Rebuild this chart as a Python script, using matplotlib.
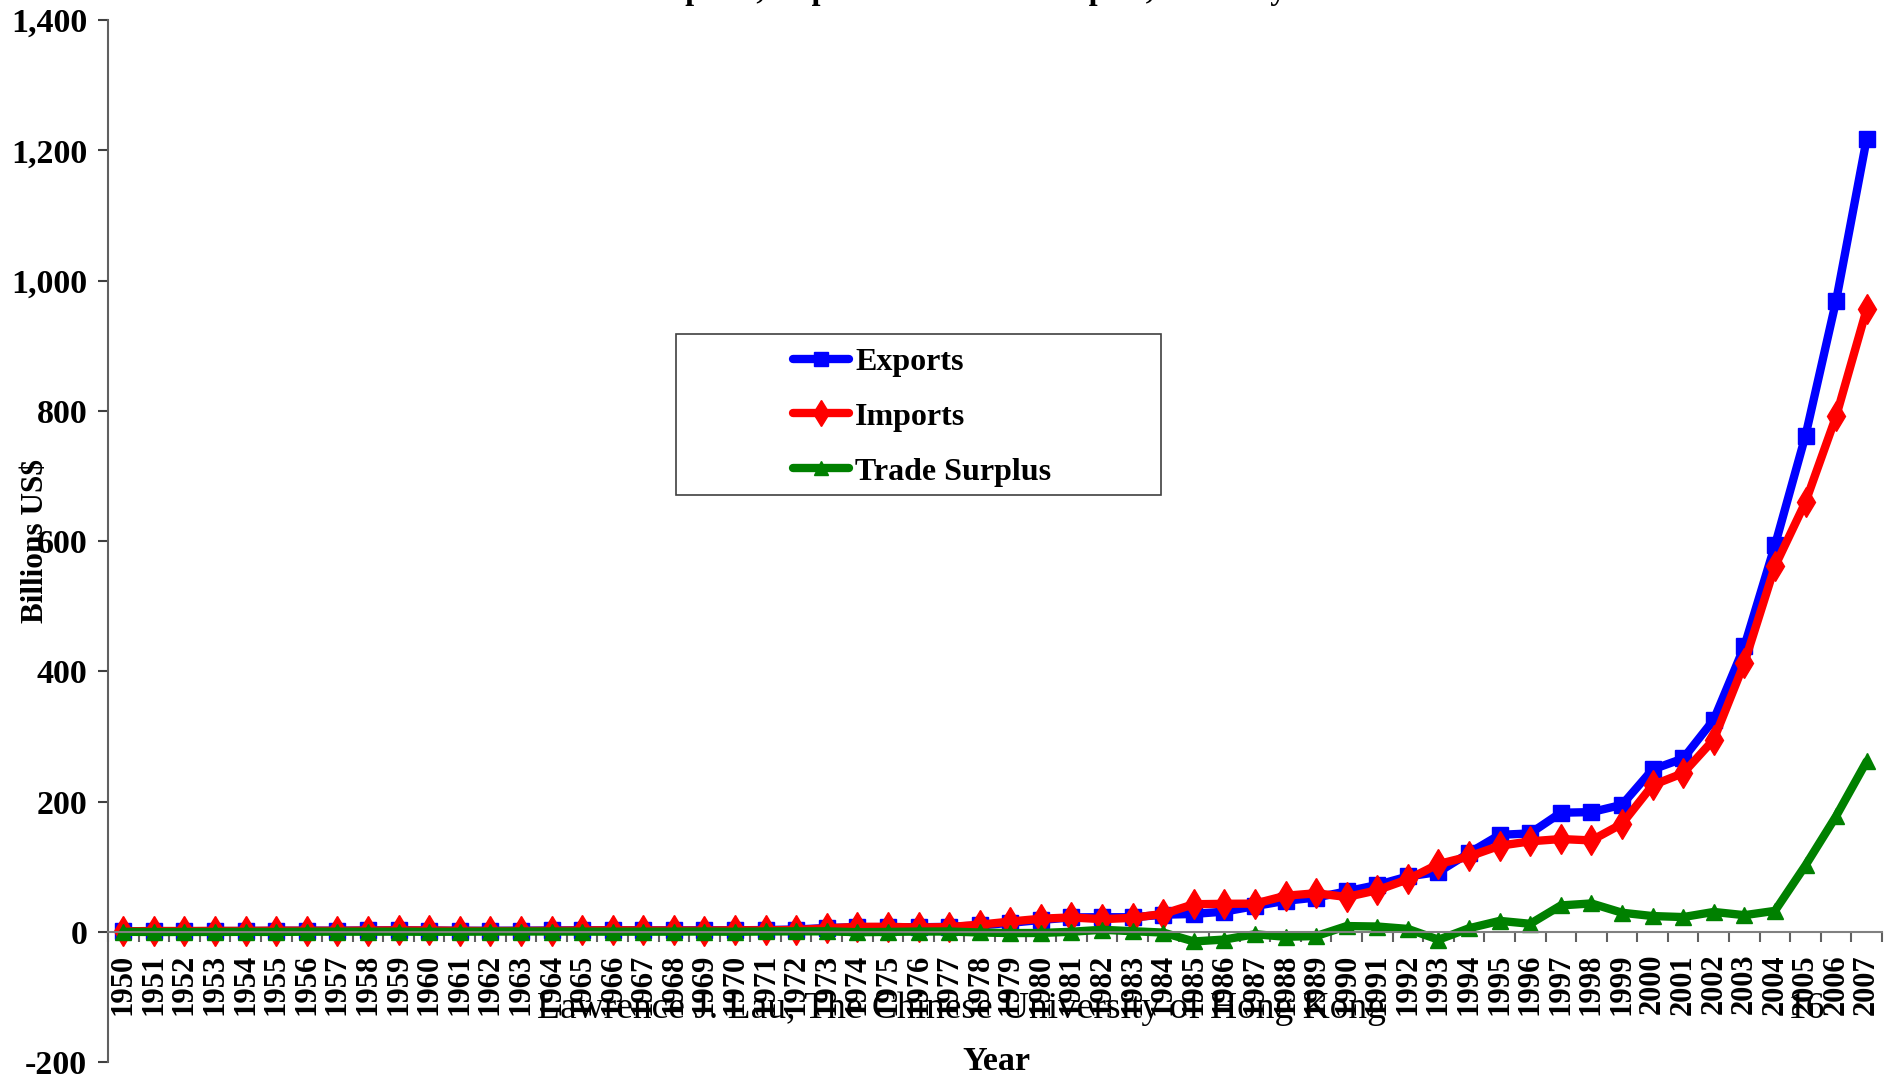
import numpy as np
import matplotlib
matplotlib.use("Agg")
import matplotlib.pyplot as plt
from matplotlib.patches import Rectangle
from matplotlib.ticker import FuncFormatter

# Data (billions US$)
years = list(range(1950, 2008))

exports = [0.55, 0.76, 0.82, 1.02, 1.15, 1.41, 1.65, 1.60, 1.98, 2.26,
           1.86, 1.49, 1.49, 1.65, 1.92, 2.23, 2.37, 2.14, 2.10, 2.20,
           2.26, 2.64, 3.44, 5.82, 6.95, 7.26, 6.85, 7.59, 9.75, 13.66,
           18.12, 22.01, 22.32, 22.23, 26.14, 27.35, 30.94, 39.44, 47.52, 52.54,
           62.09, 71.84, 84.94, 91.74, 121.01, 148.78, 151.05, 182.79, 183.71, 194.93,
           249.20, 266.10, 325.60, 438.23, 593.33, 761.95, 968.94, 1217.78]

imports = [0.58, 1.20, 1.12, 1.35, 1.29, 1.73, 1.56, 1.50, 1.89, 2.12,
           1.95, 1.45, 1.17, 1.27, 1.55, 2.02, 2.25, 2.02, 1.95, 1.83,
           2.33, 2.20, 2.86, 5.16, 7.62, 7.49, 6.58, 7.21, 10.89, 15.67,
           20.02, 22.02, 19.29, 21.39, 27.41, 42.25, 42.90, 43.22, 55.28, 59.14,
           53.35, 63.79, 80.59, 103.96, 115.61, 132.08, 138.83, 142.37, 140.24, 165.70,
           225.09, 243.55, 295.17, 412.76, 561.23, 659.95, 791.46, 956.04]

surplus = [-0.03, -0.44, -0.30, -0.33, -0.14, -0.32, 0.09, 0.10, 0.09, 0.14,
           -0.09, 0.04, 0.32, 0.38, 0.37, 0.21, 0.12, 0.12, 0.15, 0.37,
           -0.07, 0.44, 0.58, 0.66, -0.67, -0.23, 0.27, 0.38, -1.14, -2.01,
           -1.90, -0.01, 3.03, 0.84, -1.27, -14.90, -11.96, -3.78, -7.76, -6.60,
           8.74, 8.05, 4.35, -12.22, 5.40, 16.70, 12.22, 40.42, 43.47, 29.23,
           24.11, 22.55, 30.43, 25.47, 32.10, 102.00, 177.48, 261.74]

y_ticks = [-200, 0, 200, 400, 600, 800, 1000, 1200, 1400]

W, H = 1886, 1077
plt.rcParams['font.family'] = ['Liberation Serif', 'DejaVu Serif']
plt.rcParams['font.weight'] = 'bold'

fig = plt.figure(figsize=(W / 100, H / 100), dpi=100)
ax = fig.add_axes([108 / W, 1 - 1062 / H, (1882 - 108) / W, (1062 - 20) / H])

x = np.arange(len(years))
ax.plot(x, exports, color='#0000ff', lw=6, marker='s', ms=12, label='Exports',
        solid_joinstyle='round', solid_capstyle='round')
ax.plot(x, imports, color='#ff0000', lw=6, marker='d', ms=15, label='Imports',
        solid_joinstyle='round', solid_capstyle='round')
ax.plot(x, surplus, color='#008000', lw=6, marker='^', ms=12, label='Trade Surplus',
        solid_joinstyle='round', solid_capstyle='round')

ax.set_xlim(-0.5, len(years) - 0.5)
ax.set_ylim(-200, 1400)
ax.set_yticks(y_ticks)
ax.yaxis.set_major_formatter(FuncFormatter(lambda v, p: "{:,.0f}".format(v)))
ax.tick_params(axis='y', labelsize=24.5, length=7, width=1.5, pad=8, color='#404040')

# category axis: boundary tick marks, labels at the centres
ax.spines['bottom'].set_position(('data', 0))
ax.spines['top'].set_visible(False)
ax.spines['right'].set_visible(False)
ax.spines['bottom'].set_color('#808080')
ax.spines['left'].set_color('#606060')
ax.spines['bottom'].set_linewidth(1.5)
ax.spines['left'].set_linewidth(1.5)
ax.set_xticks(np.arange(len(years) + 1) - 0.5)
ax.set_xticklabels([])
ax.tick_params(axis='x', which='major', length=7, width=1.5, color='#606060')
ax.set_xticks(x, minor=True)
ax.set_xticklabels([str(y) for y in years], minor=True, rotation=90, fontsize=22)
ax.tick_params(axis='x', which='minor', length=0, pad=16)

ax.set_zorder(1)
ax.patch.set_visible(False)

# legend with its own frame
leg = ax.legend(loc='center', bbox_to_anchor=(922 / W, 1 - 417 / H),
                bbox_transform=fig.transFigure, frameon=False, fontsize=23,
                handlelength=1.75, handletextpad=0.2, labelspacing=0.8,
                markerscale=0.85)
fig.add_artist(Rectangle((676 / W, 1 - 495 / H), 485 / W, 161 / H,
                         transform=fig.transFigure, fill=False,
                         edgecolor='#404040', lw=1.2))

fig.text(36 / W, 1 - 541 / H, "Billions US$", rotation=90, ha='center', va='center',
         fontsize=22.5, fontweight='bold')
fig.text(996 / W, 1 - 1062 / H, "Year", ha='center', va='center',
         fontsize=24.5, fontweight='bold')

# title sits mostly above the canvas, as in the original
fig.text(535 / W, 1 + 1 / H, "China's Exports, Imports and Trade Surplus, Annually",
         ha='left', va='baseline', fontsize=23, fontweight='bold')

# footer
fig.text(537 / W, 1 - 1018 / H, "Lawrence J. Lau, The Chinese University of Hong Kong",
         ha='left', va='baseline', fontsize=27, fontweight='normal', zorder=5)
fig.text(1788 / W, 1 - 1018 / H, "16", ha='left', va='baseline',
         fontsize=27, fontweight='normal', zorder=5)

fig.savefig("out.png", dpi=100)
